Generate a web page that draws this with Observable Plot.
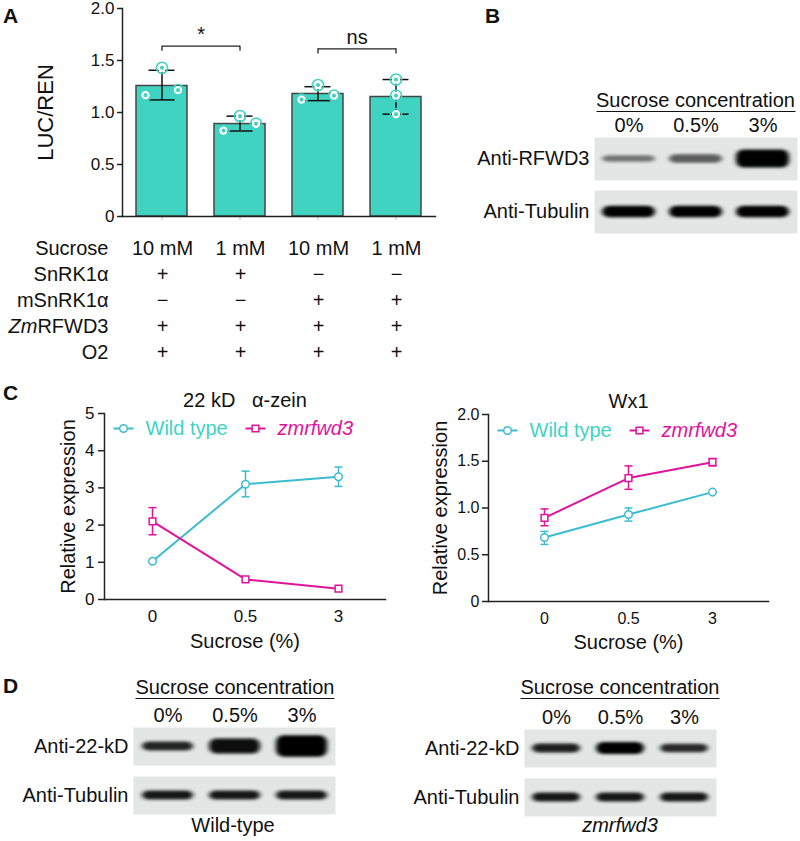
<!DOCTYPE html>
<html><head><meta charset="utf-8">
<script src="https://cdn.jsdelivr.net/npm/d3@7"></script>
<script src="https://cdn.jsdelivr.net/npm/@observablehq/plot@0.6"></script>
<style>
body{margin:0;background:#fff;font-family:"Liberation Sans",Arial,Helvetica,sans-serif;color:#111;}
#root{position:relative;width:800px;height:841px;overflow:hidden;background:#fff;}
.panel{position:absolute;font-weight:bold;font-size:21px;line-height:1;}
.hdr{position:absolute;font-size:20px;line-height:1;border-bottom:1.6px solid #111;padding-bottom:1px;white-space:nowrap;transform:translateX(-50%);}
.cap{position:absolute;font-size:20px;line-height:1;white-space:nowrap;transform:translateX(-50%);}
.holder{position:absolute;}
</style></head>
<body><div id="root"></div>
<script>
// ---------------- DATA ----------------
// Panel A: luciferase assay
const conditionIds = ["10mM_SnRK1a", "1mM_SnRK1a", "10mM_mSnRK1a", "1mM_mSnRK1a"];
const barMeans = [1.255, 0.889, 1.178, 1.149];
const errLow = [1.121, 0.822, 1.114, 0.984];
const errHigh = [1.406, 0.965, 1.248, 1.317];
const replicateValues = [[1.167, 1.43, 1.215], [0.826, 0.965, 0.892], [1.124, 1.264, 1.162], [0.984, 1.317, 1.162]];
const yTicksA = [0, 0.5, 1, 1.5, 2];
const sigLabels = ["*", "ns"];
const sigLevels = [1.638, 1.612];
// Panel A table
const tableRows = ["Sucrose", "SnRK1α", "mSnRK1α", "ZmRFWD3", "O2"];
const sucroseRow = ["10 mM", "1 mM", "10 mM", "1 mM"];
const snrkRow = ["+", "+", "−", "−"];
const msnrkRow = ["−", "−", "+", "+"];
const rfwdRow = ["+", "+", "+", "+"];
const o2Row = ["+", "+", "+", "+"];
// Blots
const lanes = ["0%", "0.5%", "3%"];
const blotRowsB = ["Anti-RFWD3", "Anti-Tubulin"];
const rfwd3Thickness = [0.15, 0.2, 0.42];
const rfwd3Intensity = [0.5, 0.6, 1.0];
const tubulinBThickness = [0.27, 0.27, 0.27];
const tubulinBIntensity = [1.0, 1.0, 1.0];
const blotRowsD = ["Anti-22-kD", "Anti-Tubulin"];
const zeinWTBandThickness = [0.24, 0.4, 0.56];
const zeinWTBandIntensity = [0.85, 0.97, 1.0];
const tubulinWTThickness = [0.24, 0.24, 0.24];
const tubulinWTIntensity = [0.92, 0.92, 0.92];
const zeinMutBandThickness = [0.24, 0.32, 0.22];
const zeinMutBandIntensity = [0.88, 1.0, 0.82];
const tubulinMutThickness = [0.24, 0.24, 0.24];
const tubulinMutIntensity = [0.92, 0.92, 0.92];
// Panel C: qRT-PCR
const sucroseLevels = ["0", "0.5", "3"];
const genotypes = ["Wild type", "zmrfwd3"];
const zeinWT = [1.03, 3.10, 3.30];
const zeinWTLo = [null, 2.76, 3.04];
const zeinWTHi = [null, 3.45, 3.56];
const zeinMut = [2.10, 0.54, 0.29];
const zeinMutLo = [1.74, null, null];
const zeinMutHi = [2.47, null, null];
const wx1WT = [0.685, 0.93, 1.17];
const wx1WTLo = [0.61, 0.86, null];
const wx1WTHi = [0.75, 1.0, null];
const wx1Mut = [0.895, 1.32, 1.49];
const wx1MutLo = [0.81, 1.20, 1.45];
const wx1MutHi = [0.99, 1.45, 1.53];
const yTicksZein = [0, 1, 2, 3, 4, 5];
const yTicksWx1 = [0, 0.5, 1, 1.5, 2];

// ---------------- STYLE ----------------
const FONT = '"Liberation Sans", Arial, Helvetica, sans-serif';
const teal = "#41D3C1";
const wtColor = "#3BBCD1";
const wtText = "#3FD3C6";
const mutColor = "#E0149B";
const axisColor = "#222";
const baseStyle = (fs) => ({fontFamily: FONT, fontSize: fs, color: "#111", background: "transparent", overflow: "visible"});
const root = document.getElementById("root");
function place(node, left, top) {
  const d = document.createElement("div");
  d.className = "holder";
  d.style.left = left + "px"; d.style.top = top + "px";
  d.appendChild(node); root.appendChild(d); return node;
}
function html(text, cls, left, top, extra = "") {
  const d = document.createElement("div");
  d.className = cls; d.textContent = text;
  d.style.cssText += `left:${left}px;top:${top}px;${extra}`;
  root.appendChild(d); return d;
}
const fmt1 = d => d === 0 ? "0" : d3.format(".1f")(d);
const fmtInt = d => String(d);

// Panel letters
html("A", "panel", 3, 5);
html("B", "panel", 485, 5);
html("C", "panel", 3, 382);
html("D", "panel", 3, 675);

// ---------------- PANEL A ----------------
const A_W = 445, A_ML = 122, A_MR = 10, A_PI = 0.35, A_PO = 0.175;
const aStep = (A_W - A_ML - A_MR) / (conditionIds.length - A_PI + 2 * A_PO);
const barRows = conditionIds.map((id, i) => ({id, mean: barMeans[i], lo: errLow[i], hi: errHigh[i]}));
const repDots = conditionIds.flatMap((id, i) => replicateValues[i].map((v, r) => ({id, v, r, spread: i < 3})));
const sig = [
  {a: conditionIds[0], b: conditionIds[1], level: sigLevels[0], label: sigLabels[0]},
  {a: conditionIds[2], b: conditionIds[3], level: sigLevels[1], label: sigLabels[1]}
];
const sigEnds = sig.flatMap(s => [{x: s.a, level: s.level}, {x: s.b, level: s.level}]);
const repOffsets = [-16.5, 0, 16];
const outerRings = [], innerDots = [];
for (let r = 0; r < 3; r++) {
  for (const spread of [true, false]) {
    const s = repDots.filter(d => d.r === r && d.spread === spread);
    const dx = spread ? repOffsets[r] : 0;
    outerRings.push(Plot.dot(s, {x: "id", y: "v", dx, r: 5.6, stroke: teal, strokeWidth: 1.6, fill: "none"}));
    innerDots.push(Plot.dot(s, {x: "id", y: "v", dx, r: 3.1, stroke: "white", strokeWidth: 2.1, fill: teal}));
  }
}
const capInset = 12.5;
const plotA = Plot.plot({
  width: A_W, height: 233, marginLeft: A_ML, marginRight: A_MR, marginTop: 8, marginBottom: 17,
  style: baseStyle("17px"),
  x: {domain: conditionIds, paddingInner: A_PI, paddingOuter: A_PO},
  y: {domain: [0, 2]},
  marks: [
    Plot.barY(barRows, {x: "id", y: "mean", fill: teal, stroke: "#454545", strokeWidth: 1.5}),
    Plot.ruleX(barRows, {x: "id", y1: "lo", y2: "hi", stroke: "#111", strokeWidth: 1.5}),
    Plot.tickY(barRows, {x: "id", y: "lo", stroke: "#111", strokeWidth: 1.5, insetLeft: capInset, insetRight: capInset}),
    Plot.tickY(barRows, {x: "id", y: "hi", stroke: "#111", strokeWidth: 1.5, insetLeft: capInset, insetRight: capInset}),
    ...outerRings, ...innerDots,
    Plot.link(sig, {x1: "a", x2: "b", y1: "level", y2: "level", stroke: "#222", strokeWidth: 1.3}),
    Plot.ruleX(sigEnds, {x: "x", y1: "level", y2: d => d.level - 0.05, stroke: "#222", strokeWidth: 1.3}),
    Plot.text(sig, {x: "a", y: "level", dx: aStep / 2, dy: -5, text: "label", lineAnchor: "bottom", fontSize: 20, fill: "#111"}),
    Plot.axisY({ticks: yTicksA, tickFormat: fmt1, tickSize: 5, tickPadding: 3, fontSize: 17, stroke: axisColor, strokeWidth: 1.5, label: null}),
    Plot.axisX({tickSize: 4, tickFormat: () => "", stroke: "#bbb", label: null}),
    Plot.frame({anchor: "left", stroke: axisColor, strokeWidth: 1.5}),
    Plot.frame({anchor: "bottom", stroke: axisColor, strokeWidth: 1.5}),
    Plot.text(["LUC/REN"], {frameAnchor: "left", textAnchor: "middle", lineAnchor: "middle", rotate: -90, dx: -77, fontSize: 22, fill: "#111"})
  ]
});
place(plotA, 0, 0);

// Panel A table
const tableValues = [sucroseRow, snrkRow, msnrkRow, rfwdRow, o2Row];
const tableCells = [];
tableValues.forEach((vals, ri) => vals.forEach((t, ci) => tableCells.push({row: tableRows[ri], id: conditionIds[ci], t})));
const plotTable = Plot.plot({
  width: A_W, height: 140, marginLeft: A_ML, marginRight: A_MR, marginTop: 16.5, marginBottom: 16,
  style: baseStyle("20px"),
  x: {domain: conditionIds, paddingInner: A_PI, paddingOuter: A_PO, axis: null},
  y: {type: "point", domain: tableRows, padding: 0, axis: null},
  marks: [
    Plot.text(tableCells, {x: "id", y: "row", text: "t", fontSize: 20, fill: "#111"}),
    Plot.text(tableRows, {y: d => d, text: d => d, frameAnchor: "left", textAnchor: "end", lineAnchor: "middle", dx: -14, fontSize: 20, fill: "#111"})
  ]
});
d3.select(plotTable).selectAll("text").filter(function () { return this.textContent === "ZmRFWD3"; }).each(function () {
  const t = d3.select(this); t.text(null);
  t.append("tspan").attr("font-style", "italic").text("Zm");
  t.append("tspan").text("RFWD3");
});
place(plotTable, 0, 230);

// ---------------- BLOTS ----------------
function bandsFor(rows, thick, inten) {
  const out = [];
  rows.forEach((row, ri) => lanes.forEach((lane, li) => out.push({row, lane, t: thick[ri][li], k: inten[ri][li]})));
  return out;
}
const bgGray = "#e4e6e6";
const bandColor = d3.interpolateRgb(bgGray, "#000000");
let blotCount = 0;
function blot({rows, bands, width, height, marginLeft, marginRight, marginTop, marginBottom, gap, inset}) {
  const svg = Plot.plot({
    width, height, marginLeft, marginRight, marginTop, marginBottom,
    style: baseStyle("20px"),
    x: {domain: lanes, padding: 0, axis: "top", tickSize: 0, tickPadding: 6, label: null},
    y: {domain: [0, 1], axis: null},
    fy: {domain: rows, paddingInner: gap, paddingOuter: 0, axis: "left", tickSize: 0, tickPadding: 5, label: null},
    marks: [
      Plot.frame({fill: bgGray, stroke: "none"}),
      Plot.barY(bands, {x: "lane", fy: "row", y1: d => 0.5 - d.t / 2, y2: d => 0.5 + d.t / 2,
        fill: d => bandColor(d.k), insetLeft: inset, insetRight: inset, rx: 7, ariaLabel: "band"})
    ]
  });
  const id = "blur" + (blotCount++);
  const s = d3.select(svg);
  s.insert("defs", ":first-child").append("filter").attr("id", id)
    .attr("filterUnits", "userSpaceOnUse").attr("x", 0).attr("y", 0).attr("width", width).attr("height", height)
    .append("feGaussianBlur").attr("stdDeviation", "2.8 1.5");
  s.selectAll("rect").filter(function () {
    return this.getAttribute("aria-label") !== "frame" && this.closest('[aria-label="frame"]') == null &&
      this.getAttribute("fill") !== bgGray;
  }).attr("filter", `url(#${id})`);
  return svg;
}
// Panel B
place(blot({rows: blotRowsB, bands: bandsFor(blotRowsB, [rfwd3Thickness, tubulinBThickness], [rfwd3Intensity, tubulinBIntensity]),
  width: 400, height: 135, marginLeft: 194, marginRight: 3, marginTop: 31.7, marginBottom: 7.3, gap: 0.19, inset: 7}), 400, 105);
html("Sucrose concentration", "hdr", 695.5, 90);
// Panel D
place(blot({rows: blotRowsD, bands: bandsFor(blotRowsD, [zeinWTBandThickness, tubulinWTThickness], [zeinWTBandIntensity, tubulinWTIntensity]),
  width: 400, height: 116, marginLeft: 133, marginRight: 65, marginTop: 25, marginBottom: 4, gap: 0.2245, inset: 8}), 0, 702);
place(blot({rows: blotRowsD, bands: bandsFor(blotRowsD, [zeinMutBandThickness, tubulinMutThickness], [zeinMutBandIntensity, tubulinMutIntensity]),
  width: 400, height: 116, marginLeft: 124, marginRight: 84, marginTop: 27, marginBottom: 2, gap: 0.2245, inset: 8}), 400, 702);
html("Sucrose concentration", "hdr", 235, 677);
html("Sucrose concentration", "hdr", 620, 677);
html("Wild-type", "cap", 233, 815);
html("zmrfwd3", "cap", 620, 815, "font-style:italic;");

// ---------------- PANEL C ----------------
function seriesRows(g, vals, lo, hi) {
  return sucroseLevels.map((s, i) => ({g, s, v: vals[i], lo: lo[i], hi: hi[i]}));
}
const lineSymbol = {draw(ctx) { ctx.moveTo(-10, 0); ctx.lineTo(10, 0); }};
const capSymbol = {draw(ctx) { ctx.moveTo(-4, 0); ctx.lineTo(4, 0); }};
function exprPlot({title, rows, yDomain, yTicks, yFmt, width, height, marginLeft, marginRight, marginTop, marginBottom, xPadding, tickFont, tickPadding, ylabDx, xlabDy, xTickPad, legendDy}) {
  const errRows = rows.filter(d => d.lo != null && d.hi != null);
  const legend = [
    {label: genotypes[0], color: wtColor, text: wtText, symbol: "circle", italic: false},
    {label: genotypes[1], color: mutColor, text: mutColor, symbol: "square", italic: true}
  ];
  const legendMarks = legend.flatMap((it, i) => {
    const ox = i * 132;
    return [
      Plot.dot([it], {frameAnchor: "top-left", dx: ox + 19, dy: legendDy, symbol: lineSymbol, stroke: it.color, strokeWidth: 2, fill: "none"}),
      Plot.dot([it], {frameAnchor: "top-left", dx: ox + 19, dy: legendDy, symbol: it.symbol, r: 3.8, stroke: it.color, strokeWidth: 1.5, fill: "white"}),
      Plot.text([it], {frameAnchor: "top-left", dx: ox + 41, dy: legendDy, text: d => d.label, textAnchor: "start", lineAnchor: "middle", fill: it.text, fontSize: 20, fontStyle: it.italic ? "italic" : "normal"})
    ];
  });
  return Plot.plot({
    width, height, marginLeft, marginRight, marginTop, marginBottom,
    style: baseStyle(tickFont + "px"),
    x: {type: "point", domain: sucroseLevels, padding: xPadding},
    y: {domain: yDomain},
    color: {domain: genotypes, range: [wtColor, mutColor]},
    symbol: {domain: genotypes, range: ["circle", "square"]},
    marks: [
      Plot.axisY({ticks: yTicks, tickFormat: yFmt, tickSize: 6, tickPadding, fontSize: tickFont, stroke: axisColor, strokeWidth: 1.5, label: null}),
      Plot.axisX({tickSize: 0, tickPadding: xTickPad, fontSize: tickFont, label: null}),
      Plot.frame({anchor: "left", stroke: axisColor, strokeWidth: 1.5}),
      Plot.frame({anchor: "bottom", stroke: axisColor, strokeWidth: 1.5}),
      Plot.line(rows, {x: "s", y: "v", z: "g", stroke: "g", strokeWidth: 2}),
      Plot.ruleX(errRows, {x: "s", y1: "lo", y2: "hi", stroke: "g", strokeWidth: 1.5}),
      Plot.dot(errRows, {x: "s", y: "lo", symbol: capSymbol, stroke: "g", strokeWidth: 1.5, fill: "none"}),
      Plot.dot(errRows, {x: "s", y: "hi", symbol: capSymbol, stroke: "g", strokeWidth: 1.5, fill: "none"}),
      Plot.dot(rows, {x: "s", y: "v", symbol: "g", stroke: "g", fill: "white", r: 3.8, strokeWidth: 1.5}),
      Plot.text([title], {frameAnchor: "top", lineAnchor: "middle", dy: -13, fontSize: 20, fill: "#111"}),
      Plot.text(["Relative expression"], {frameAnchor: "left", textAnchor: "middle", lineAnchor: "middle", rotate: -90, dx: ylabDx, fontSize: 20, fill: "#111"}),
      Plot.text(["Sucrose (%)"], {frameAnchor: "bottom", lineAnchor: "middle", dy: xlabDy, fontSize: 20, fill: "#111"}),
      ...legendMarks
    ]
  });
}
const zeinRows = [...seriesRows(genotypes[0], zeinWT, zeinWTLo, zeinWTHi), ...seriesRows(genotypes[1], zeinMut, zeinMutLo, zeinMutHi)];
const wx1Rows = [...seriesRows(genotypes[0], wx1WT, wx1WTLo, wx1WTHi), ...seriesRows(genotypes[1], wx1Mut, wx1MutLo, wx1MutHi)];
place(exprPlot({title: "22 kD\u00a0\u00a0\u00a0α-zein", rows: zeinRows, yDomain: [0, 5], yTicks: yTicksZein, yFmt: fmtInt,
  width: 400, height: 262, marginLeft: 104, marginRight: 15, marginTop: 25, marginBottom: 51, xPadding: 0.5,
  tickFont: 17, tickPadding: 4, ylabDx: -36, xlabDy: 42, xTickPad: 10, legendDy: 15}), 0, 388);
place(exprPlot({title: "Wx1", rows: wx1Rows, yDomain: [0, 2], yTicks: yTicksWx1, yFmt: fmt1,
  width: 400, height: 262, marginLeft: 88, marginRight: 32, marginTop: 26, marginBottom: 49, xPadding: 0.664,
  tickFont: 16, tickPadding: 3, ylabDx: -48, xlabDy: 41, xTickPad: 11, legendDy: 16}), 400, 388);
</script>
</body></html>
